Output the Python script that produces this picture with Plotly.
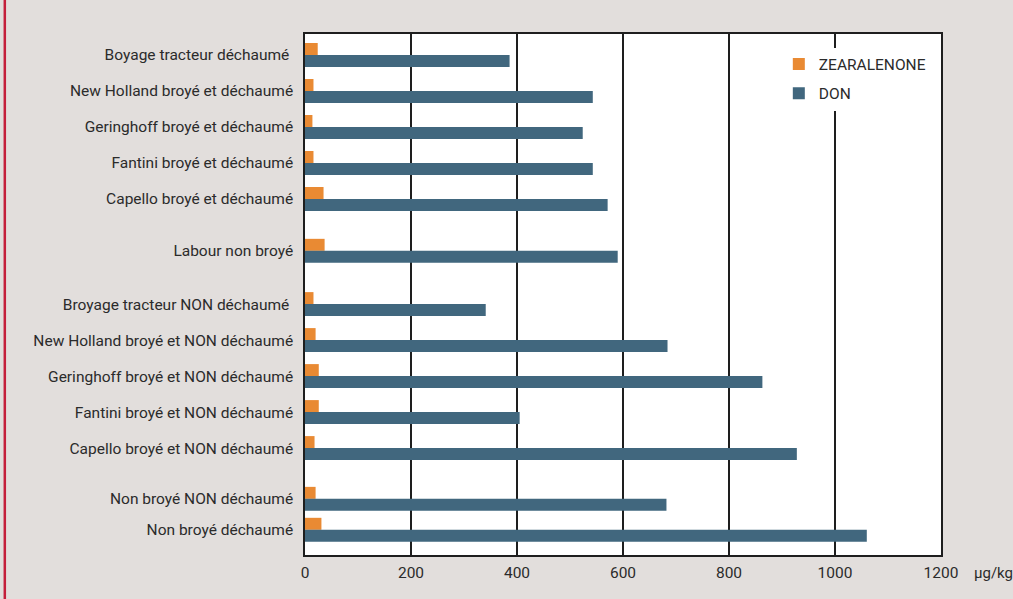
import plotly.graph_objects as go

categories = [
    "Boyage tracteur déchaumé\u00a0",
    "New Holland broyé et déchaumé",
    "Geringhoff broyé et déchaumé",
    "Fantini broyé et déchaumé",
    "Capello broyé et déchaumé",
    "Labour non broyé",
    "Broyage tracteur NON déchaumé\u00a0",
    "New Holland broyé et NON déchaumé",
    "Geringhoff broyé et NON déchaumé",
    "Fantini broyé et NON déchaumé",
    "Capello broyé et NON déchaumé",
    "Non broyé NON déchaumé",
    "Non broyé déchaumé",
]
don = [386, 543, 524, 543, 571, 590, 341, 684, 863, 405, 928, 682, 1060]
zearalenone = [24, 16, 14, 16, 35, 37, 16, 20, 26, 26, 18, 20, 31]
x_ticks = [0, 200, 400, 600, 800, 1000, 1200]

# layout: slot position of each row on the value axis (irregular spacing as in the original)
row_slot = [0, 1, 2, 3, 4, 5.44, 6.92, 7.92, 8.92, 9.92, 10.92, 12.33, 13.19]

FONT = "Roboto, Liberation Sans, sans-serif"
FS = 15.5
TXT = "#2b2b2b"
ORANGE = "#e98a33"
BLUE = "#41677e"
BG = "#e2dedc"
BAR_W = 0.333

fig = go.Figure()
fig.add_trace(go.Bar(
    name="ZEARALENONE", y=row_slot, x=zearalenone, orientation="h",
    width=BAR_W, offset=-BAR_W, legendgroup="z",
    marker=dict(color=ORANGE, line=dict(width=0)),
))
fig.add_trace(go.Bar(
    name="DON", y=row_slot, x=don, orientation="h",
    width=BAR_W, offset=0, legendgroup="d",
    marker=dict(color=BLUE, line=dict(width=0)),
))

fig.update_layout(
    width=1013, height=599,
    paper_bgcolor=BG, plot_bgcolor="white",
    margin=dict(l=305, r=72, t=34, b=44),
    barmode="overlay",
    font=dict(family=FONT, size=FS, color=TXT),
    showlegend=True,
    legend=dict(
        x=0.745, y=0.974, xanchor="left", yanchor="top",
        bgcolor="white", borderwidth=0,
        font=dict(family=FONT, size=FS, color=TXT),
        traceorder="grouped", tracegroupgap=6, itemwidth=30,
    ),
    xaxis=dict(
        range=[0, 1200], tickvals=x_ticks, ticktext=[str(v) for v in x_ticks],
        showgrid=True, gridcolor="#1e1e1e", gridwidth=1.5,
        showline=True, linecolor="#1e1e1e", linewidth=1.5, mirror=True,
        zeroline=False, ticks="", ticklabelstandoff=3,
        fixedrange=True,
    ),
    yaxis=dict(
        range=[13.89, -0.583], tickvals=row_slot, ticktext=categories,
        showgrid=False, zeroline=False,
        showline=True, linecolor="#1e1e1e", linewidth=1.5, mirror=True,
        ticks="", ticklabelstandoff=7,
        fixedrange=True,
    ),
    shapes=[dict(type="line", xref="paper", yref="paper",
                 x0=-0.472, x1=-0.472, y0=-0.1, y1=1.1,
                 line=dict(color="#c41f3b", width=2.5))],
    annotations=[dict(text="µg/kg", xref="paper", yref="paper",
                      x=1.0, xshift=31, y=0, yshift=-18, xanchor="left",
                      yanchor="middle", showarrow=False,
                      font=dict(family=FONT, size=FS - 0.5, color=TXT))],
)

fig.write_html("out.html")
